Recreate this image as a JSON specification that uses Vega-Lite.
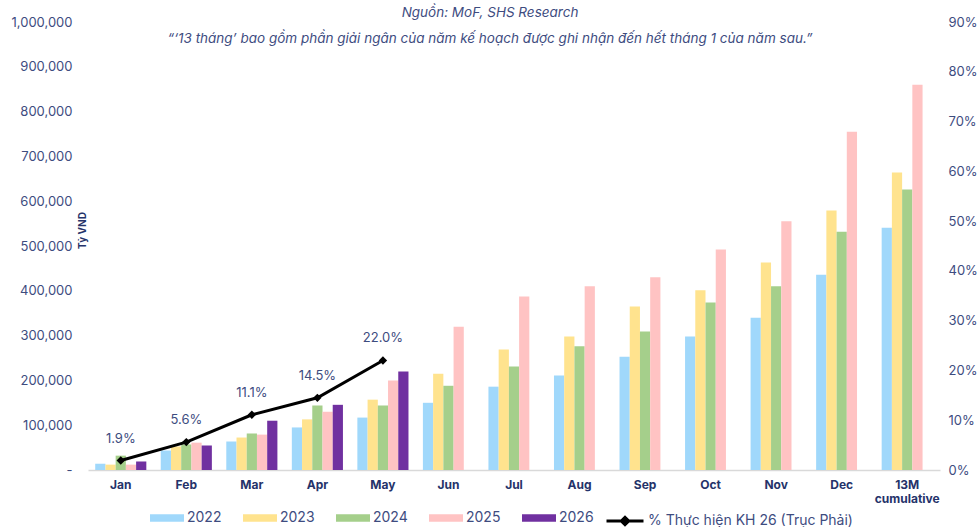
{
  "$schema": "https://vega.github.io/schema/vega-lite/v6.json",
  "width": 852,
  "height": 448,
  "autosize": {"type": "none"},
  "padding": {"left": 88, "top": 22, "right": 40, "bottom": 57},
  "config": {
    "font": "Inter",
    "view": {"stroke": null},
    "axis": {"grid": false, "ticks": false, "domain": false, "labelColor": "#3e4c7f", "labelFontSize": 13}
  },
  "title": {
    "text": "Nguồn: MoF, SHS Research",
    "subtitle": "“‘13 tháng’ bao gồm phần giải ngân của năm kế hoạch được ghi nhận đến hết tháng 1 của năm sau.”",
    "fontStyle": "italic",
    "subtitleFontStyle": "italic",
    "fontSize": 13.5,
    "subtitleFontSize": 13.5,
    "fontWeight": "normal",
    "color": "#3e4c7f",
    "subtitleColor": "#3e4c7f",
    "anchor": "middle",
    "offset": -29,
    "subtitlePadding": 12,
    "dx": -24
  },
  "datasets": {
    "bars": [
      {"month": "Jan", "year": "2022", "value": 14000},
      {"month": "Jan", "year": "2023", "value": 12000},
      {"month": "Jan", "year": "2024", "value": 32000},
      {"month": "Jan", "year": "2025", "value": 12000},
      {"month": "Jan", "year": "2026", "value": 19000},
      {"month": "Feb", "year": "2022", "value": 43500},
      {"month": "Feb", "year": "2023", "value": 52500},
      {"month": "Feb", "year": "2024", "value": 57000},
      {"month": "Feb", "year": "2025", "value": 61000},
      {"month": "Feb", "year": "2026", "value": 54700},
      {"month": "Mar", "year": "2022", "value": 63600},
      {"month": "Mar", "year": "2023", "value": 72500},
      {"month": "Mar", "year": "2024", "value": 81500},
      {"month": "Mar", "year": "2025", "value": 79000},
      {"month": "Mar", "year": "2026", "value": 110000},
      {"month": "Apr", "year": "2022", "value": 95000},
      {"month": "Apr", "year": "2023", "value": 113000},
      {"month": "Apr", "year": "2024", "value": 144000},
      {"month": "Apr", "year": "2025", "value": 130000},
      {"month": "Apr", "year": "2026", "value": 145500},
      {"month": "May", "year": "2022", "value": 117000},
      {"month": "May", "year": "2023", "value": 157000},
      {"month": "May", "year": "2024", "value": 144000},
      {"month": "May", "year": "2025", "value": 200000},
      {"month": "May", "year": "2026", "value": 220000},
      {"month": "Jun", "year": "2022", "value": 150000},
      {"month": "Jun", "year": "2023", "value": 215000},
      {"month": "Jun", "year": "2024", "value": 188000},
      {"month": "Jun", "year": "2025", "value": 320000},
      {"month": "Jul", "year": "2022", "value": 186000},
      {"month": "Jul", "year": "2023", "value": 269000},
      {"month": "Jul", "year": "2024", "value": 231000},
      {"month": "Jul", "year": "2025", "value": 387000},
      {"month": "Aug", "year": "2022", "value": 211000},
      {"month": "Aug", "year": "2023", "value": 298000},
      {"month": "Aug", "year": "2024", "value": 276000},
      {"month": "Aug", "year": "2025", "value": 410000},
      {"month": "Sep", "year": "2022", "value": 253000},
      {"month": "Sep", "year": "2023", "value": 365000},
      {"month": "Sep", "year": "2024", "value": 309000},
      {"month": "Sep", "year": "2025", "value": 430000},
      {"month": "Oct", "year": "2022", "value": 298000},
      {"month": "Oct", "year": "2023", "value": 401000},
      {"month": "Oct", "year": "2024", "value": 374000},
      {"month": "Oct", "year": "2025", "value": 492000},
      {"month": "Nov", "year": "2022", "value": 340000},
      {"month": "Nov", "year": "2023", "value": 463000},
      {"month": "Nov", "year": "2024", "value": 410000},
      {"month": "Nov", "year": "2025", "value": 555000},
      {"month": "Dec", "year": "2022", "value": 436000},
      {"month": "Dec", "year": "2023", "value": 579000},
      {"month": "Dec", "year": "2024", "value": 532000},
      {"month": "Dec", "year": "2025", "value": 755000},
      {"month": "13M cumulative", "year": "2022", "value": 541000},
      {"month": "13M cumulative", "year": "2023", "value": 664000},
      {"month": "13M cumulative", "year": "2024", "value": 626000},
      {"month": "13M cumulative", "year": "2025", "value": 860000}
    ],
    "line": [
      {"month": "Jan", "pct": 0.019},
      {"month": "Feb", "pct": 0.056},
      {"month": "Mar", "pct": 0.111},
      {"month": "Apr", "pct": 0.145},
      {"month": "May", "pct": 0.22}
    ]
  },
  "layer": [
    {
      "data": {"name": "bars"},
      "mark": {"type": "bar"},
      "encoding": {
        "x": {
          "field": "month",
          "type": "nominal",
          "sort": ["Jan", "Feb", "Mar", "Apr", "May", "Jun", "Jul", "Aug", "Sep", "Oct", "Nov", "Dec", "13M cumulative"],
          "scale": {"paddingInner": 0.22, "paddingOuter": 0.11},
          "axis": {
            "title": null,
            "labelAngle": 0,
            "labelFontWeight": "bold",
            "labelColor": "#25336a",
            "labelFontSize": 12,
            "labelPadding": 9,
            "domain": true,
            "domainColor": "#d9d9d9",
            "domainWidth": 1.5,
            "labelExpr": "datum.label == '13M cumulative' ? ['13M', 'cumulative'] : datum.label"
          }
        },
        "xOffset": {
          "field": "year",
          "type": "nominal",
          "scale": {"domain": ["2022", "2023", "2024", "2025", "2026"], "paddingInner": 0, "paddingOuter": 0}
        },
        "y": {
          "field": "value",
          "type": "quantitative",
          "scale": {"domain": [0, 1000000], "nice": false},
          "axis": {
            "title": "Tỷ VND",
            "titleFontSize": 10,
            "titleFontWeight": "bold",
            "titleColor": "#25336a",
            "titleAngle": -90,
            "titleX": -1,
            "titleY": 208,
            "titleAlign": "center",
            "titleBaseline": "bottom",
            "values": [0, 100000, 200000, 300000, 400000, 500000, 600000, 700000, 800000, 900000, 1000000],
            "labelExpr": "datum.value == 0 ? '-' : format(datum.value, ',')",
            "labelPadding": 16
          }
        },
        "color": {
          "field": "year",
          "type": "nominal",
          "scale": {
            "domain": ["2022", "2023", "2024", "2025", "2026"],
            "range": ["#a0d8fb", "#ffe38e", "#a5cf8b", "#ffc3c3", "#7030a0"]
          },
          "legend": {
            "orient": "none",
            "legendX": 62,
            "legendY": 479,
            "direction": "horizontal",
            "columns": 5,
            "title": null,
            "symbolType": "M-1,-0.22L1,-0.22L1,0.22L-1,0.22Z",
            "symbolSize": 1156,
            "symbolStrokeWidth": 0,
            "labelFontSize": 14,
            "labelColor": "#3e4c7f",
            "columnPadding": 21,
            "labelOffset": 3,
            "padding": 0
          }
        }
      }
    },
    {
      "data": {"name": "line"},
      "encoding": {
        "x": {
          "field": "month",
          "type": "nominal",
          "sort": ["Jan", "Feb", "Mar", "Apr", "May", "Jun", "Jul", "Aug", "Sep", "Oct", "Nov", "Dec", "13M cumulative"]
        },
        "y": {
          "field": "pct",
          "type": "quantitative",
          "scale": {"domain": [0, 0.9], "nice": false},
          "axis": {
            "orient": "right",
            "title": null,
            "format": ".0%",
            "values": [0, 0.1, 0.2, 0.3, 0.4, 0.5, 0.6, 0.7, 0.8, 0.9],
            "labelPadding": 8
          }
        }
      },
      "layer": [
        {
          "mark": {"type": "line", "strokeWidth": 3},
          "encoding": {
            "stroke": {
              "datum": "% Thực hiện KH 26 (Trục Phải)",
              "scale": {"range": ["#000000"]},
              "legend": {
                "orient": "none",
                "legendX": 517,
                "legendY": 479,
                "title": null,
                "symbolType": "M-1,0L1,0M-0.2,0L0,-0.2L0.2,0L0,0.2Z",
                "symbolSize": 1369,
                "symbolStrokeWidth": 3,
                "symbolFillColor": "#000000",
                "labelFontSize": 14,
                "labelLimit": 400,
                "labelColor": "#3e4c7f",
                "labelOffset": 3,
                "padding": 0
              }
            }
          }
        },
        {
          "mark": {"type": "point", "shape": "diamond", "filled": true, "color": "#000000", "opacity": 1, "size": 70}
        },
        {
          "mark": {"type": "text", "dy": -22, "fontSize": 13, "color": "#3e4c7f"},
          "encoding": {"text": {"field": "pct", "type": "quantitative", "format": ".1%"}}
        }
      ]
    }
  ],
  "resolve": {"scale": {"y": "independent"}}
}
